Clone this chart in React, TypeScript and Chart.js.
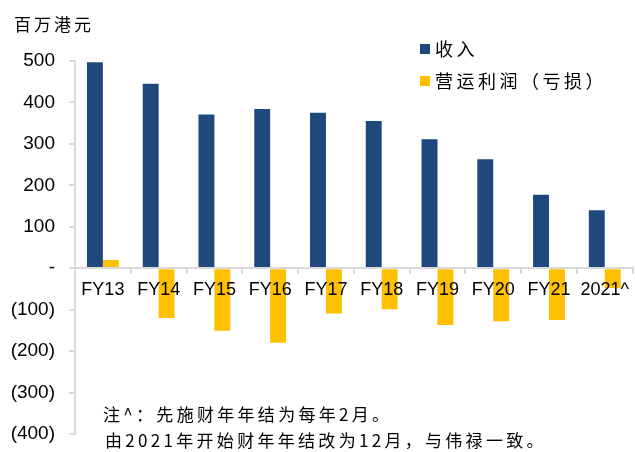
import React, { useEffect, useRef } from "react";
import { Chart, registerables } from "chart.js";

Chart.register(...registerables);

const categories = ["FY13", "FY14", "FY15", "FY16", "FY17", "FY18", "FY19", "FY20", "FY21", "2021^"];
const revenue = [497, 445, 371, 384, 375, 355, 311, 263, 177, 140];
const operatingProfit = [20, -120, -151, -180, -109, -99, -137, -128, -125, -48];
const seriesNames = ["收入", "营运利润（亏损）"];
const seriesColors = ["#1F497D", "#FFC000"];
const yMin = -400;
const yMax = 500;
const yStep = 100;
const unitTitle = "百万港元";
const noteLines = ["注^：先施财年年结为每年2月。", "由2021年开始财年年结改为12月，与伟禄一致。"];

const cjkFont = '"Noto Sans CJK SC", "Noto Sans CJK TC", sans-serif';
const latinFont = '"Liberation Sans", Arial, sans-serif';

function formatTick(v: number): string {
  if (v === 0) return "-";
  if (v < 0) return "(" + Math.abs(v) + ")";
  return String(v);
}

const overlayPlugin = {
  id: "overlayText",
  afterDraw(chart: any) {
    const ctx = chart.ctx as CanvasRenderingContext2D;
    ctx.save();
    ctx.fillStyle = "#000";
    ctx.textBaseline = "middle";
    ctx.textAlign = "left";
    // title
    ctx.font = "17px " + cjkFont;
    (ctx as any).letterSpacing = "3px";
    ctx.fillText(unitTitle, 14, 25);
    // legend
    ctx.font = "18px " + cjkFont;
    (ctx as any).letterSpacing = "3.5px";
    const legendYs = [49, 81];
    seriesNames.forEach((name, i) => {
      ctx.fillStyle = seriesColors[i];
      ctx.fillRect(420, legendYs[i] - 5, 10, 10);
      ctx.fillStyle = "#000";
      ctx.fillText(name, 435, legendYs[i]);
    });
    // note
    ctx.font = "17px " + cjkFont;
    (ctx as any).letterSpacing = "3.3px";
    ctx.fillText(noteLines[0], 103, 415);
    ctx.fillText(noteLines[1], 105, 441);
    ctx.restore();
  },
};

export default function App() {
  const canvasRef = useRef<HTMLCanvasElement | null>(null);

  useEffect(() => {
    document.body.style.margin = "0";
    const canvas = canvasRef.current;
    if (!canvas) return;
    const axisColor = "#D9D9D9";
    const chart = new Chart(canvas, {
      type: "bar",
      data: {
        labels: categories,
        datasets: [
          {
            label: seriesNames[0],
            data: revenue,
            backgroundColor: seriesColors[0],
            categoryPercentage: 32 / 56,
            barPercentage: 1,
          },
          {
            label: seriesNames[1],
            data: operatingProfit,
            backgroundColor: seriesColors[1],
            categoryPercentage: 32 / 56,
            barPercentage: 1,
          },
        ],
      },
      options: {
        responsive: false,
        animation: false,
        devicePixelRatio: 1,
        layout: { padding: { top: 61, bottom: 18, left: 0, right: 0 } },
        plugins: {
          legend: { display: false },
          title: { display: false },
          tooltip: { enabled: false },
        },
        scales: {
          x: {
            position: { y: 0 } as any,
            grid: {
              offset: true,
              drawOnChartArea: false,
              drawTicks: true,
              tickLength: 5,
              color: axisColor,
              lineWidth: 2,
              z: 1,
            },
            border: { display: true, color: axisColor, width: 2, z: 1 },
            ticks: {
              z: 1,
              color: "#000",
              font: { family: latinFont, size: 18 },
              padding: 6,
              maxRotation: 0,
              autoSkip: false,
            },
          },
          y: {
            min: yMin,
            max: yMax,
            afterFit(scale: any) {
              scale.width = 75;
              scale.paddingTop = 0;
              scale.paddingBottom = 0;
            },
            grid: {
              drawOnChartArea: false,
              drawTicks: true,
              tickLength: 6,
              color: axisColor,
              lineWidth: 2,
            },
            border: { display: true, color: axisColor, width: 2 },
            ticks: {
              stepSize: yStep,
              color: "#000",
              font: { family: latinFont, size: 19 },
              padding: 14,
              callback: (v: any) => formatTick(Number(v)),
            },
          },
        },
      },
      plugins: [overlayPlugin],
    });
    return () => chart.destroy();
  }, []);

  return (
    <div style={{ width: 635, height: 452, position: "relative", background: "#fff" }}>
      <canvas ref={canvasRef} width={635} height={452} />
    </div>
  );
}
